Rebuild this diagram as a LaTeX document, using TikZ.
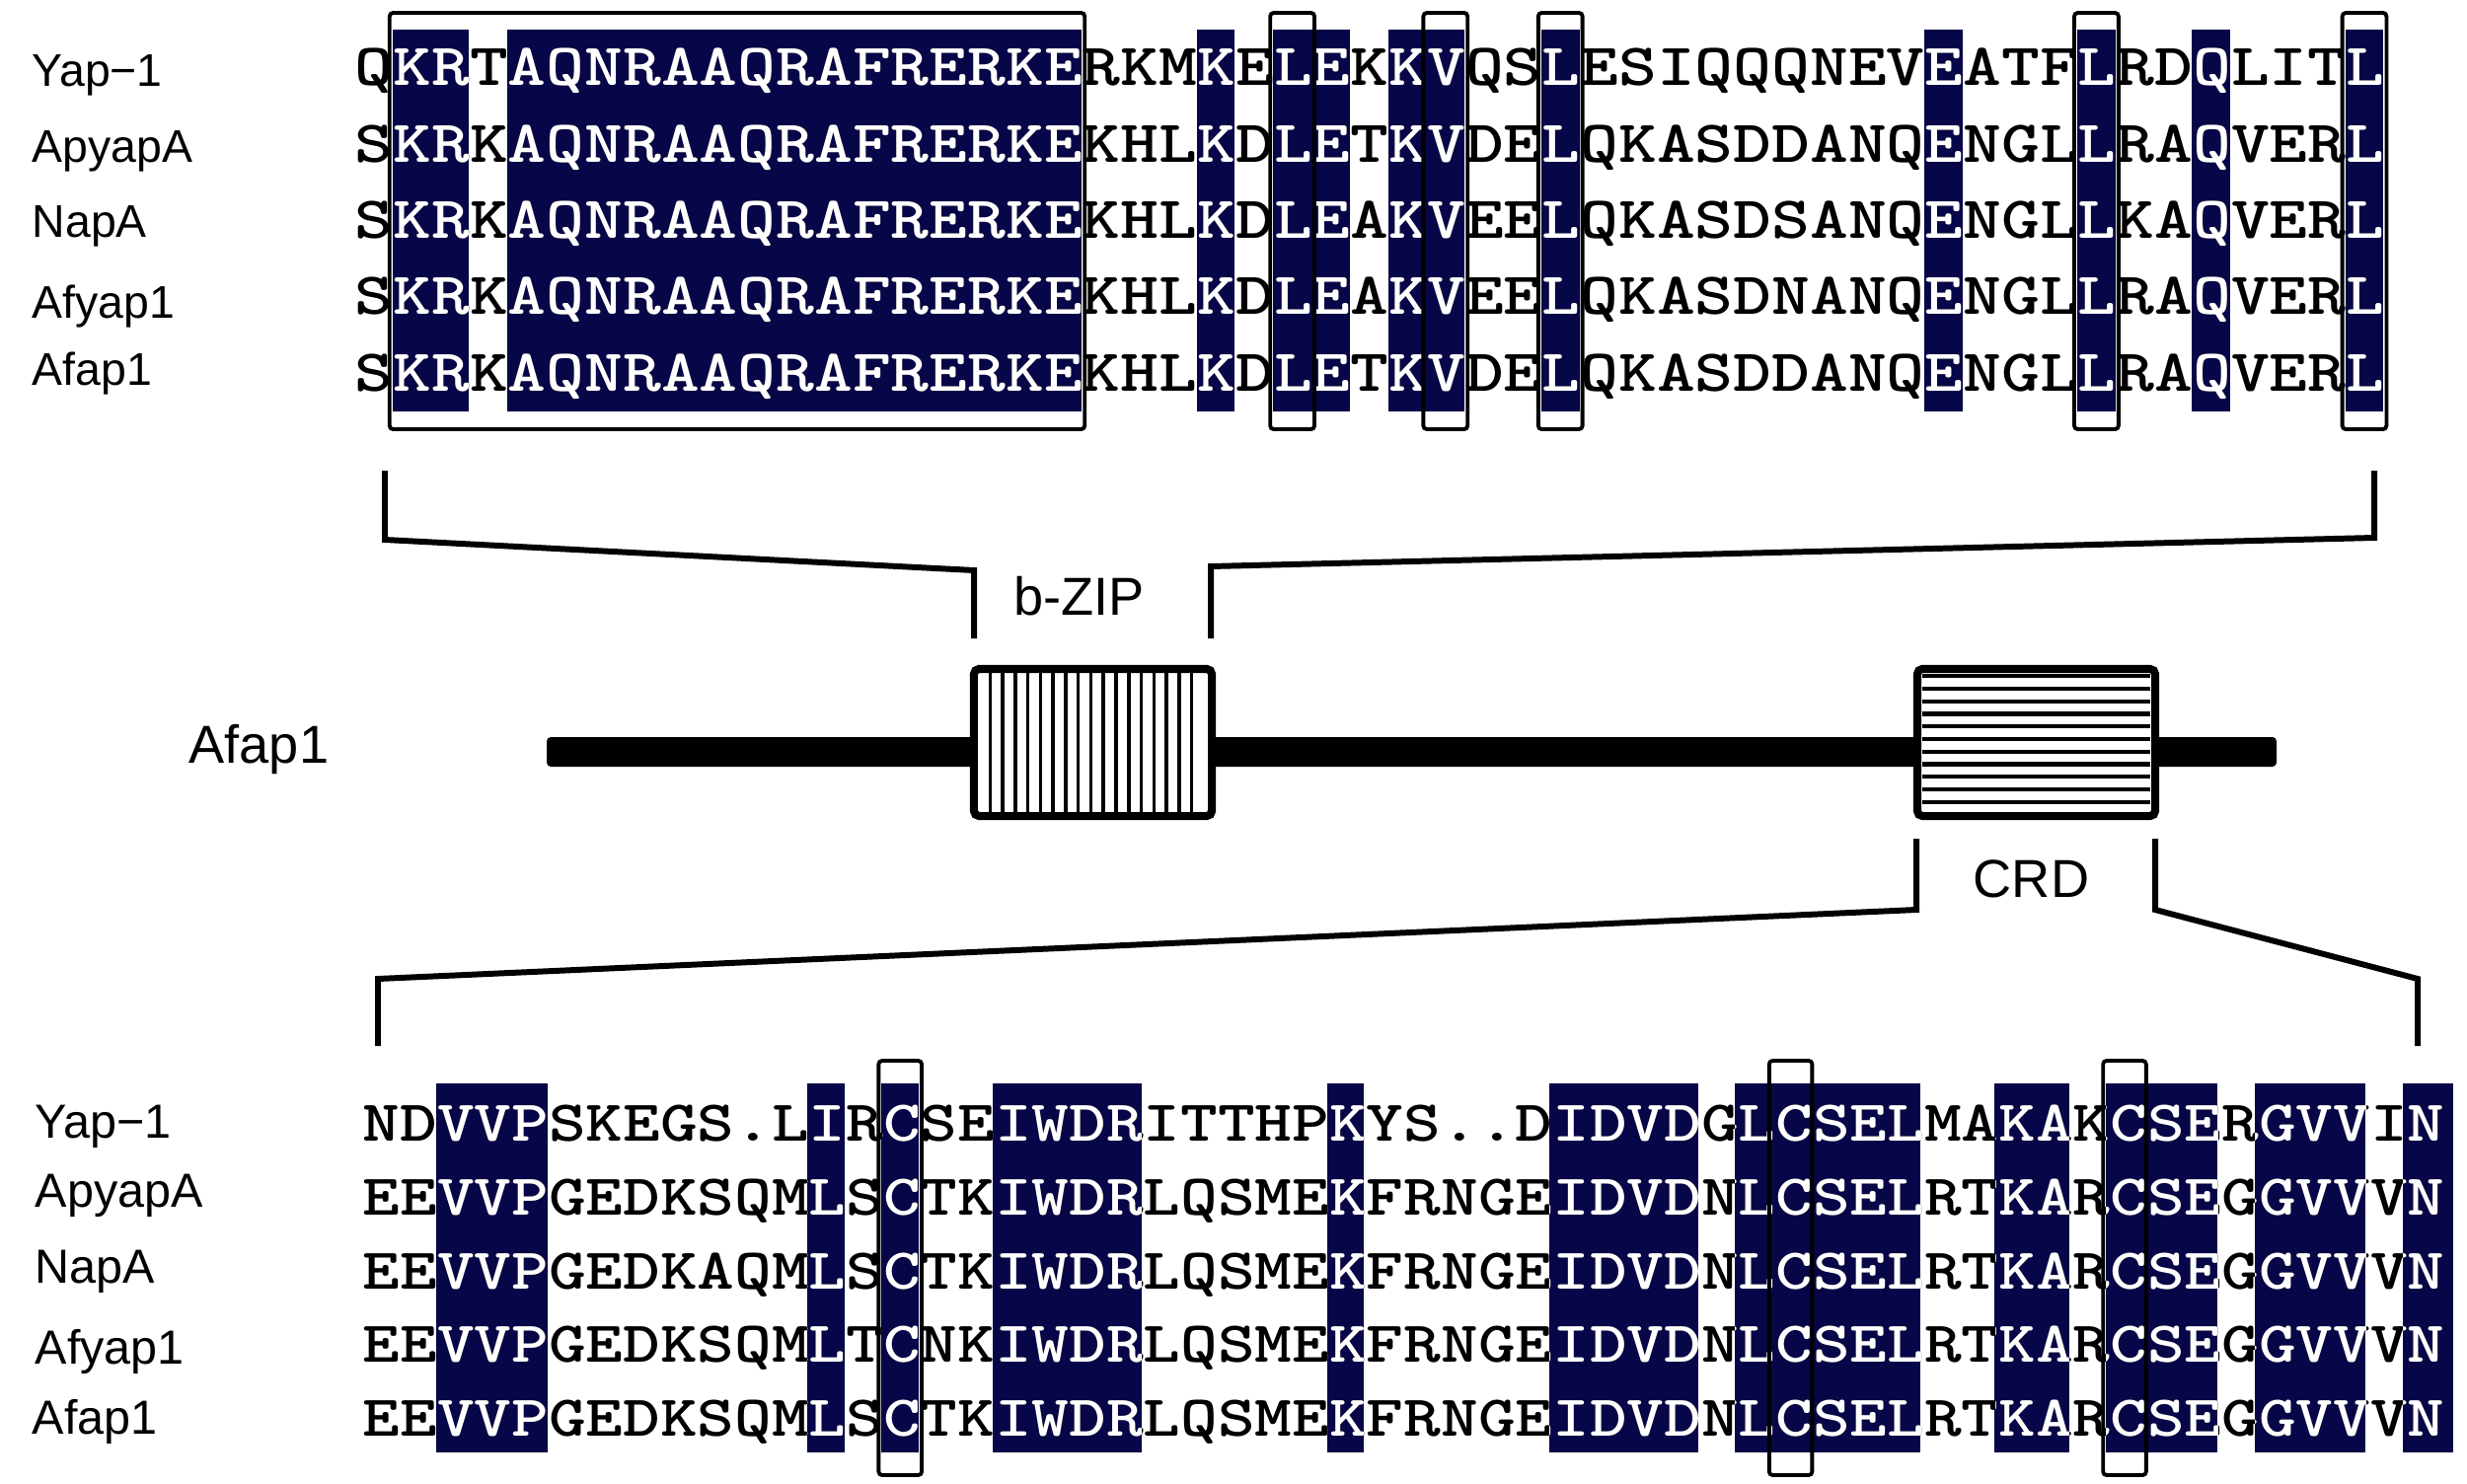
\documentclass[tikz,border=0pt]{standalone}
\usepackage{fontspec}
\usepackage{graphicx}
\usetikzlibrary{positioning}
\setmainfont{Liberation Sans}

\definecolor{navy}{RGB}{6,6,72}

\newcommand{\seqtop}[1]{{\fontsize{17.2pt}{18pt}\selectfont\ttfamily\bfseries\scalebox{1.222}[1]{#1}}}
\newcommand{\seqbot}[1]{{\fontsize{16.7pt}{18pt}\selectfont\ttfamily\bfseries\scalebox{1.222}[1]{#1}}}

\def\toprows{QKRTAQNRAAQRAFRERKERKMKELEKKVQSLESIQQQNEVEATFLRDQLITL,
  SKRKAQNRAAQRAFRERKEKHLKDLETKVDELQKASDDANQENGLLRAQVERL,
  SKRKAQNRAAQRAFRERKEKHLKDLEAKVEELQKASDSANQENGLLKAQVERL,
  SKRKAQNRAAQRAFRERKEKHLKDLEAKVEELQKASDNANQENGLLRAQVERL,
  SKRKAQNRAAQRAFRERKEKHLKDLETKVDELQKASDDANQENGLLRAQVERL}
\def\botrows{NDVVPSKEGS.LIRCSEIWDRITTHPKYS..DIDVDGLCSELMAKAKCSERGVVIN,
  EEVVPGEDKSQMLSCTKIWDRLQSMEKFRNGEIDVDNLCSELRTKARCSEGGVVVN,
  EEVVPGEDKAQMLSCTKIWDRLQSMEKFRNGEIDVDNLCSELRTKARCSEGGVVVN,
  EEVVPGEDKSQMLTCNKIWDRLQSMEKFRNGEIDVDNLCSELRTKARCSEGGVVVN,
  EEVVPGEDKSQMLSCTKIWDRLQSMEKFRNGEIDVDNLCSELRTKARCSEGGVVVN}
\def\topshade{2/3,5/19,23/23,25/26,28/29,32/32,42/42,46/46,49/49,53/53}
\def\botshade{3/5,13/13,15/15,18/21,27/27,33/36,38/42,45/46,48/50,52/54,56/56.35}

\begin{document}
\begin{tikzpicture}[
    x=0.01cm, y=-0.01cm,
    lab/.style={inner sep=0pt, anchor=base west, font=\fontsize{13.2pt}{15pt}\selectfont},
    labb/.style={lab, font=\fontsize{13.8pt}{15pt}\selectfont},
    dom/.style={inner sep=0pt, font=\fontsize{15.4pt}{18pt}\selectfont},
    row/.style={inner sep=0pt, anchor=base west},
    shd/.style={fill=navy},
    colbox/.style={draw=black, line width=1.1pt, rounded corners=1pt},
    brk/.style={line width=1.7pt},
    zipbox/.style={draw, line width=2.3pt, fill=white, rounded corners=1.5pt, inner sep=0pt,
      minimum width=2.41cm, minimum height=1.49cm},
    hatch/.style={line width=1pt}
  ]
  \useasboundingbox (0,0) rectangle (2500,1503);

  % top alignment (b-ZIP)
  \foreach \a/\b in \topshade
    \fill[shd] ({359+38.8*(\a-1)},30) rectangle ({359+38.8*\b},417);
  \foreach \s [count=\i] in \toprows
    \node[row] (t\i) at (359,{86.7+77.4*(\i-1)}) {\seqtop{\s}};
  \begin{scope}
    \clip \foreach \a/\b in \topshade {({359+38.8*(\a-1)},30) rectangle ({359+38.8*\b},417)};
    \foreach \s [count=\i] in \toprows
      \node[row,text=white] (tw\i) at (359,{86.7+77.4*(\i-1)}) {\seqtop{\s}};
  \end{scope}
  \draw[colbox] ({359+38.8-3},13) rectangle ({359+38.8*19+3},435);
  \foreach \c in {25,29,32,46,53}
    \draw[colbox] ({359+38.8*(\c-1)-3},13) rectangle ({359+38.8*\c+3},435);

  \node[lab] (ta) at (32,88) {Yap−1};
  \node[lab] (tb) at (32,165) {ApyapA};
  \node[lab] (tc) at (32,240) {NapA};
  \node[lab] (td) at (32,322) {Afyap1};
  \node[lab] (te) at (32,390) {Afap1};

  % protein
  \fill[rounded corners=1.2pt] (554,747) rectangle (2307,777);
  \node[zipbox] (bzip) at (1107.5,752.5) {};
  \node[zipbox] (crd) at (2063.5,752.5) {};
  \foreach \k in {0,...,16}
    \draw[hatch] ({1003.3+12.77*\k},682) -- ({1003.3+12.77*\k},823);
  \foreach \k in {-1,...,9}
    \draw[hatch,line width=1.2pt] (1948,{698+12.75*\k}) -- (2179,{698+12.75*\k});

  \node[dom, anchor=base west] (afap) at (191,773) {Afap1};
  \node[dom, above=0.5cm of bzip.north, anchor=base, xshift=-0.14cm] (bziplab) {b-ZIP};
  \node[dom, below=0.4cm of crd.south, anchor=north, xshift=-0.05cm] (crdlab) {CRD};

  % brackets
  \coordinate (tl1) at (390,477);  \coordinate (tl2) at (390,547);
  \coordinate (tl3) at (987,578);  \coordinate (tl4) at (987,647);
  \coordinate (tr1) at (2406,477); \coordinate (tr2) at (2406,545);
  \coordinate (tr3) at (1227,574); \coordinate (tr4) at (1227,647);
  \draw[brk] (tl1) -- (tl2) -- (tl3) -- (tl4);
  \draw[brk] (tr1) -- (tr2) -- (tr3) -- (tr4);
  \coordinate (bl1) at (1942,850); \coordinate (bl2) at (1942,922);
  \coordinate (bl3) at (383,992);  \coordinate (bl4) at (383,1060);
  \coordinate (br1) at (2184,850); \coordinate (br2) at (2184,922);
  \coordinate (br3) at (2450,992); \coordinate (br4) at (2450,1060);
  \draw[brk] (bl1) -- (bl2) -- (bl3) -- (bl4);
  \draw[brk] (br1) -- (br2) -- (br3) -- (br4);

  % bottom alignment (CRD)
  \foreach \a/\b in \botshade
    \fill[shd] ({367+37.6*(\a-1)},1098) rectangle ({367+37.6*\b},1472);
  \foreach \s [count=\i] in \botrows
    \node[row] (b\i) at (367,{1156.4+74.8*(\i-1)}) {\seqbot{\s}};
  \begin{scope}
    \clip \foreach \a/\b in \botshade {({367+37.6*(\a-1)},1098) rectangle ({367+37.6*\b},1472)};
    \foreach \s [count=\i] in \botrows
      \node[row,text=white] (bw\i) at (367,{1156.4+74.8*(\i-1)}) {\seqbot{\s}};
  \end{scope}
  \foreach \c in {15,39,48}
    \draw[colbox] ({367+37.6*(\c-1)-3},1075) rectangle ({367+37.6*\c+3},1495);

  \node[labb] (ba) at (35,1153) {Yap−1};
  \node[labb] (bb) at (35,1223) {ApyapA};
  \node[labb] (bc) at (35,1300) {NapA};
  \node[labb] (bd) at (35,1382) {Afyap1};
  \node[labb] (be) at (32,1453) {Afap1};
\end{tikzpicture}
\end{document}
